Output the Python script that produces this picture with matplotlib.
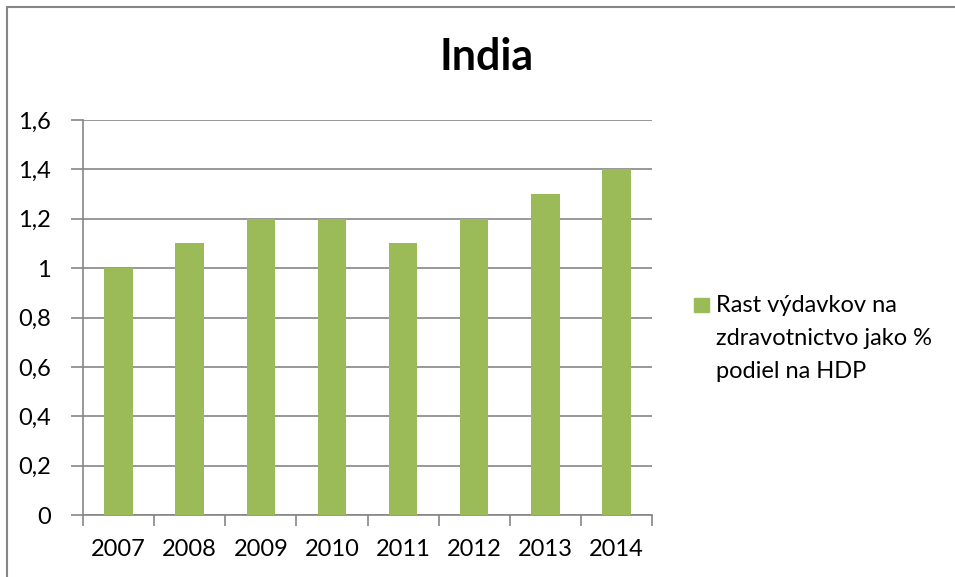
import matplotlib
matplotlib.use("Agg")
import matplotlib.pyplot as plt
from matplotlib.patches import Rectangle
import numpy as np

plt.rcParams['font.family'] = ['Lato', 'DejaVu Sans']

# data
years = ['2007', '2008', '2009', '2010', '2011', '2012', '2013', '2014']
values = [1.0, 1.1, 1.2, 1.2, 1.1, 1.2, 1.3, 1.4]
series_lines = ['Rast výdavkov na', 'zdravotnictvo jako %', 'podiel na HDP']
title = 'India'

W, H = 955, 577
fig = plt.figure(figsize=(W / 100, H / 100), dpi=100)
ax = fig.add_axes([83 / W, 1 - 515 / H, (652 - 83) / W, (515 - 120) / H])

green = '#9BBB59'
grey = '#868686'

x = np.arange(len(years))
ax.bar(x, values, width=0.4, color=green, zorder=3)

ax.set_xlim(-0.5, len(years) - 0.5)
ax.set_ylim(0, 1.6)
yt = np.arange(0, 1.61, 0.2)
ax.set_yticks(yt)
ax.set_yticklabels([('%g' % round(v, 1)).replace('.', ',') for v in yt], fontsize=17)
ax.yaxis.grid(True, color=grey, linewidth=1.2, zorder=0)
ax.tick_params(axis='y', length=9, width=1.2, color=grey, pad=14)

# category labels on minor ticks, tick marks on boundaries
ax.set_xticks(np.arange(-0.5, len(years)), minor=False)
ax.set_xticklabels([])
ax.set_xticks(x, minor=True)
ax.set_xticklabels(years, minor=True, fontsize=17)
ax.tick_params(axis='x', which='major', length=8, width=1.2, color=grey)
ax.tick_params(axis='x', which='minor', length=0, pad=17)

for s in ['top', 'right']:
    ax.spines[s].set_visible(False)
for s in ['left', 'bottom']:
    ax.spines[s].set_color(grey)
    ax.spines[s].set_linewidth(1.2)

fig.text(487 / W, 1 - 57 / H, title, fontsize=31, fontweight='bold',
         ha='center', va='center')

# legend
fig.patches.append(Rectangle((694 / W, 1 - 312 / H), 15 / W, 14 / H,
                             transform=fig.transFigure, color=green))
for i, line in enumerate(series_lines):
    fig.text(716 / W, 1 - (312 + 33 * i) / H, line, fontsize=17,
             ha='left', va='baseline')

# chart border
fig.patches.append(Rectangle((7 / W, -0.05), 1.1, 1 - 7 / H + 0.05,
                             transform=fig.transFigure, fill=False,
                             edgecolor=grey, linewidth=1.5))

fig.savefig('out.png', dpi=100)
